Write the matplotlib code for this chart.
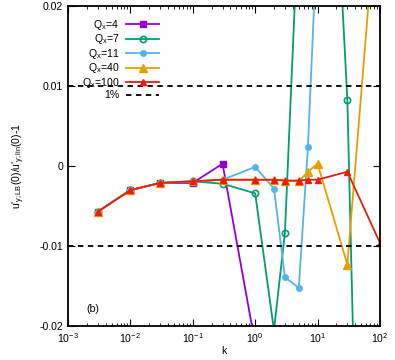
import matplotlib
matplotlib.use("Agg")
import matplotlib.pyplot as plt
import numpy as np

plt.rcParams["font.family"] = ["Liberation Sans", "DejaVu Sans"]
plt.rcParams["font.size"] = 7.6
plt.rcParams["mathtext.fontset"] = "custom"
plt.rcParams["mathtext.rm"] = "Liberation Sans"
plt.rcParams["mathtext.it"] = "Liberation Sans"

# data
k_q4 = [0.003, 0.01, 0.03, 0.1, 0.3, 1.0]
y_q4 = [-0.0057, -0.0030, -0.0021, -0.0021, 0.0003, -0.0222]

k_q7 = [0.003, 0.01, 0.03, 0.1, 0.3, 1.0, 2.0, 3.0, 5.0, 10.0, 30.0, 100.0]
y_q7 = [-0.0057, -0.0030, -0.0021, -0.0019, -0.0022, -0.0034, -0.0205,
        -0.0083, 0.032, 0.08, 0.0083, -0.16]

k_q11 = [0.003, 0.01, 0.03, 0.1, 0.3, 1.0, 2.0, 3.0, 5.0, 7.0, 10.0]
y_q11 = [-0.0057, -0.0030, -0.0021, -0.0019, -0.0017, -0.0001, -0.0028,
         -0.0139, -0.0152, 0.0024, 0.030]

k_q40 = [0.003, 0.01, 0.03, 0.1, 0.3, 1.0, 2.0, 3.0, 5.0, 7.0, 10.0, 30.0, 100.0]
y_q40 = [-0.0057, -0.0030, -0.0021, -0.0019, -0.0017, -0.0017, -0.0017,
         -0.0018, -0.0019, -0.0007, 0.0003, -0.0123, 0.038]

k_q100 = [0.003, 0.01, 0.03, 0.1, 0.3, 1.0, 2.0, 3.0, 5.0, 7.0, 10.0, 30.0, 100.0]
y_q100 = [-0.0057, -0.0030, -0.0021, -0.0019, -0.0017, -0.0017, -0.0017,
          -0.0018, -0.0018, -0.0017, -0.0017, -0.0007, -0.0096]

series = [
    (k_q4, y_q4, "Q$_x$=4", "#9400d3", dict(marker="s", ms=4.5)),
    (k_q7, y_q7, "Q$_x$=7", "#009e73", dict(marker="o", ms=4.5, mfc="none", mew=1.2)),
    (k_q11, y_q11, "Q$_x$=11", "#56b4e9", dict(marker="o", ms=4)),
    (k_q40, y_q40, "Q$_x$=40", "#e69f00", dict(marker="^", ms=5.5)),
    (k_q100, y_q100, "Q$_x$=100", "#e51e10", dict(marker="^", ms=4)),
]

fig = plt.figure(figsize=(3.95, 3.6), dpi=100)
ax = fig.add_axes([0.172, 0.094, 0.79, 0.889])

for k, y, lab, col, mk in series:
    ax.plot(k, y, color=col, lw=1.3, label=lab, **mk)

ax.axhline(0.01, color="black", lw=1.3, dashes=(3, 2.5), label="1%")
ax.axhline(-0.01, color="black", lw=1.3, dashes=(3, 2.5))

ax.set_xscale("log")
ax.set_xlim(1e-3, 1e2)
ax.set_ylim(-0.02, 0.02)
ax.set_yticks([-0.02, -0.01, 0, 0.01, 0.02])
ax.set_yticklabels(["-0.02", "-0.01", "0", "0.01", "0.02"])
ax.tick_params(which="both", direction="in", top=True, right=True)
ax.tick_params(which="major", length=5)
ax.tick_params(which="minor", length=2.5)
for s in ax.spines.values():
    s.set_linewidth(1.3)

ax.set_xlabel("k", labelpad=1)
ax.set_ylabel(r"u$'_{y;\mathrm{LB}}$(0)/u$'_{y;\mathrm{lin}}$(0)-1", labelpad=9)
ax.text(0.06, 0.045, "(b)", transform=ax.transAxes)

ax.legend(loc="upper right", bbox_to_anchor=(0.30, 0.97), frameon=False,
          markerfirst=False, handlelength=3.2, labelspacing=0.05,
          handletextpad=0.6, borderpad=0.2, borderaxespad=0)

fig.savefig("out.png", dpi=100)
